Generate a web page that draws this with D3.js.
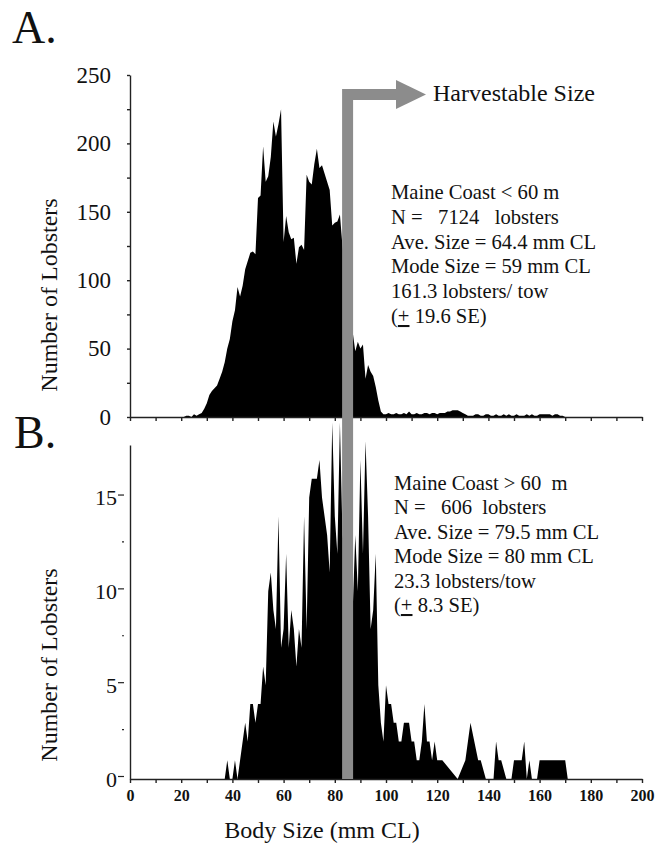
<!DOCTYPE html>
<html>
<head>
<meta charset="utf-8">
<script src="https://d3js.org/d3.v7.min.js"></script>
<style>
  html, body { margin: 0; padding: 0; background: #fff; }
  svg { display: block; font-family: "Liberation Serif", "Times New Roman", serif; }
  .stats text { white-space: pre; }
</style>
</head>
<body>
<svg id="chart" width="658" height="848"></svg>
<script>
// Panel A: Maine coast < 60 m, 1 mm size classes from 20 to 170 mm CL
const sizesA = d3.range(20, 171);
const countsA = [
  0, 0, 1, 1, 0, 2, 1, 2, 3, 6,
  10, 16, 19, 21, 23, 28, 33, 40, 50, 57,
  70, 78, 95, 88, 96, 108, 114, 120, 121, 119,
  160, 162, 198, 172, 176, 190, 216, 205, 214, 225,
  128, 147, 135, 130, 131, 112, 124, 126, 122, 177,
  172, 170, 185, 196, 182, 184, 178, 172, 166, 140,
  142, 143, 148, 125, 110, 90, 75, 62, 48, 55,
  50, 53, 28, 38, 33, 30, 22, 12, 4, 2,
  2, 3, 2, 2, 3, 2, 2, 3, 2, 4,
  2, 2, 3, 2, 2, 3, 3, 2, 3, 3,
  2, 3, 3, 3, 4, 4, 5, 5, 5, 4,
  3, 2, 1, 1, 1, 2, 2, 1, 1, 2,
  2, 1, 1, 2, 1, 1, 2, 1, 2, 1,
  1, 2, 1, 1, 1, 2, 1, 2, 1, 1,
  2, 2, 2, 2, 2, 1, 2, 2, 1, 1,
  0
];

// Panel B: Maine coast > 60 m (only the plotted size classes)
const sizesB = [
  35, 37,
  38, 39, 40, 41, 42, 43, 44, 45, 46, 47,
  48, 49, 50, 51, 52, 53, 54, 55, 56, 57,
  58, 59, 60, 61, 62, 63, 64, 65, 66, 67,
  68, 69, 70, 71, 72, 73, 74, 75, 76, 77,
  78, 79, 80, 81, 82, 83, 84, 85, 86, 87,
  88, 89, 90, 91, 92, 93, 94, 95, 96, 97,
  98, 99, 100, 101, 102, 103, 104, 105, 106, 107,
  108, 109, 110, 111, 112, 113, 114, 115, 116, 117,
  118, 119, 120, 121, 122,
  128, 131, 133, 136, 137, 139, 142, 143, 144, 145, 147,
  149, 150, 153, 154, 155, 156, 157, 159, 160, 170, 171
];
const countsB = [
  0, 0,
  1, 0, 0, 1, 0, 1, 2, 3, 2, 4,
  4, 3, 4, 4, 6, 5, 10, 11, 9, 8,
  14, 7, 8, 12, 7, 9, 8, 6, 8, 7,
  14, 8, 15, 16, 16, 16, 17, 15, 14, 13,
  11, 19, 14, 12, 19, 13, 12, 10, 8, 9,
  13, 10, 17, 12, 18, 14, 8, 9, 12, 5,
  3, 2, 5, 4, 4, 3, 3, 2, 2, 3,
  3, 3, 2, 2, 1, 1, 2, 4, 2, 2,
  1, 2, 1, 1, 1,
  0, 1, 3, 1, 1, 0, 0, 2, 1, 1, 0,
  0, 1, 1, 2, 0, 1, 0, 0, 1, 1, 0
];

const xTickLabels = [0, 20, 40, 60, 80, 100, 120, 140, 160, 180, 200];
const yTickLabelsA = [0, 50, 100, 150, 200, 250];
const yTickLabelsB = [0, 5, 10, 15];
const harvestSize = 85;

const statsA = [
  "Maine Coast < 60 m",
  "N =   7124   lobsters",
  "Ave. Size = 64.4 mm CL",
  "Mode Size = 59 mm CL",
  "161.3 lobsters/ tow",
  ["(", "+", " 19.6 SE)"]
];
const statsB = [
  "Maine Coast > 60  m",
  "N =   606  lobsters",
  "Ave. Size = 79.5 mm CL",
  "Mode Size = 80 mm CL",
  "23.3 lobsters/tow",
  ["(", "+", " 8.3 SE)"]
];

const svg = d3.select("#chart");
const axisColor = "#222";
const arrowColor = "#8c8c8c";

const x = d3.scaleLinear().domain([0, 200]).range([130, 642]);
const yA = d3.scaleLinear().domain([0, 250]).range([417, 75]);
const yB = d3.scaleLinear().domain([0, 17.8]).range([779, 445]);

const dataA = sizesA.map((s, i) => ({ size: s, n: countsA[i] }));
const dataB = sizesB.map((s, i) => ({ size: s, n: countsB[i] }));

function drawArea(data, y) {
  svg.append("path")
    .datum(data)
    .attr("fill", "#000")
    .attr("d", d3.area()
      .x(d => x(d.size))
      .y0(y(0))
      .y1(d => y(d.n)));
}
drawArea(dataA, yA);
drawArea(dataB, yB);

function styleAxis(g) {
  g.selectAll("path, line").attr("stroke", axisColor).attr("stroke-width", 1.4);
}

// x axes
svg.append("g")
  .attr("transform", `translate(0,${yA(0)})`)
  .call(d3.axisBottom(x).tickValues(d3.range(0, 201, 10)).tickSize(4).tickSizeOuter(0).tickFormat(""))
  .call(styleAxis);

svg.append("g")
  .attr("transform", `translate(0,${yB(0)})`)
  .call(d3.axisBottom(x).tickValues(d3.range(0, 201, 10)).tickSize(4).tickSizeOuter(0)
    .tickPadding(7)
    .tickFormat(d => xTickLabels.includes(d) ? d : ""))
  .call(styleAxis)
  .call(g => g.selectAll("text")
    .attr("fill", "#111")
    .attr("font-family", "Liberation Serif, serif")
    .attr("font-size", 16)
    .attr("font-weight", "bold"));

// y axis A
svg.append("g")
  .attr("transform", `translate(${x(0)},0)`)
  .call(d3.axisLeft(yA).tickValues(d3.range(0, 251, 25)).tickSize(3).tickSizeOuter(0)
    .tickPadding(16)
    .tickFormat(d => yTickLabelsA.includes(d) ? d : ""))
  .call(styleAxis)
  .call(g => g.selectAll("text")
    .attr("fill", "#111")
    .attr("font-family", "Liberation Serif, serif")
    .attr("font-size", 23));

// y axis B (ticks sit apart from the axis line)
svg.append("g")
  .attr("transform", `translate(${x(0)},0)`)
  .call(d3.axisLeft(yB).tickValues([0, 2.5, 5, 7.5, 10, 12.5, 15]).tickSize(0).tickSizeOuter(0)
    .tickPadding(13)
    .tickFormat(d => yTickLabelsB.includes(d) ? d : ""))
  .call(styleAxis)
  .call(g => g.selectAll(".tick line")
    .attr("x1", d => yTickLabelsB.includes(d) ? -12 : -8)
    .attr("x2", -6)
    .attr("y1", -3).attr("y2", -3)
    .attr("stroke-width", 1.2))
  .call(g => g.selectAll("text")
    .attr("fill", "#111")
    .attr("font-family", "Liberation Serif, serif")
    .attr("font-size", 22));

// axis titles
svg.append("text")
  .attr("transform", "translate(57,295) rotate(-90)")
  .attr("text-anchor", "middle")
  .attr("font-size", 24)
  .attr("fill", "#111")
  .text("Number of Lobsters");

svg.append("text")
  .attr("transform", "translate(57,665) rotate(-90)")
  .attr("text-anchor", "middle")
  .attr("font-size", 24)
  .attr("fill", "#111")
  .text("Number of Lobsters");

svg.append("text")
  .attr("x", 322)
  .attr("y", 838)
  .attr("text-anchor", "middle")
  .attr("font-size", 24)
  .attr("fill", "#111")
  .text("Body Size (mm CL)");

// panel letters
svg.append("text").attr("x", 12).attr("y", 43).attr("font-size", 46).attr("fill", "#111").text("A.");
svg.append("text").attr("x", 14).attr("y", 448).attr("font-size", 46).attr("fill", "#111").text("B.");

// harvestable size arrow
const hx = x(harvestSize);
svg.append("path")
  .attr("d", `M${hx},${yB(0)} V94.5 H400`)
  .attr("fill", "none")
  .attr("stroke", arrowColor)
  .attr("stroke-width", 11)
  .attr("stroke-linejoin", "miter");
svg.append("path")
  .attr("d", "M396,80 L426,94.5 L396,109 Z")
  .attr("fill", arrowColor);
svg.append("text")
  .attr("x", 433)
  .attr("y", 101)
  .attr("font-size", 24)
  .attr("fill", "#111")
  .text("Harvestable Size");

// summary statistics
function drawStats(lines, x0, y0, dy) {
  const g = svg.append("g").attr("class", "stats");
  lines.forEach((line, i) => {
    const t = g.append("text")
      .attr("x", x0)
      .attr("y", y0 + i * dy)
      .attr("font-size", 20.6)
      .attr("fill", "#111");
    if (Array.isArray(line)) {
      t.append("tspan").text(line[0]);
      t.append("tspan").attr("text-decoration", "underline").text(line[1]);
      t.append("tspan").text(line[2]);
    } else {
      t.text(line);
    }
  });
}
drawStats(statsA, 391, 199, 24.8);
drawStats(statsB, 394, 490, 24.4);
</script>
</body>
</html>
